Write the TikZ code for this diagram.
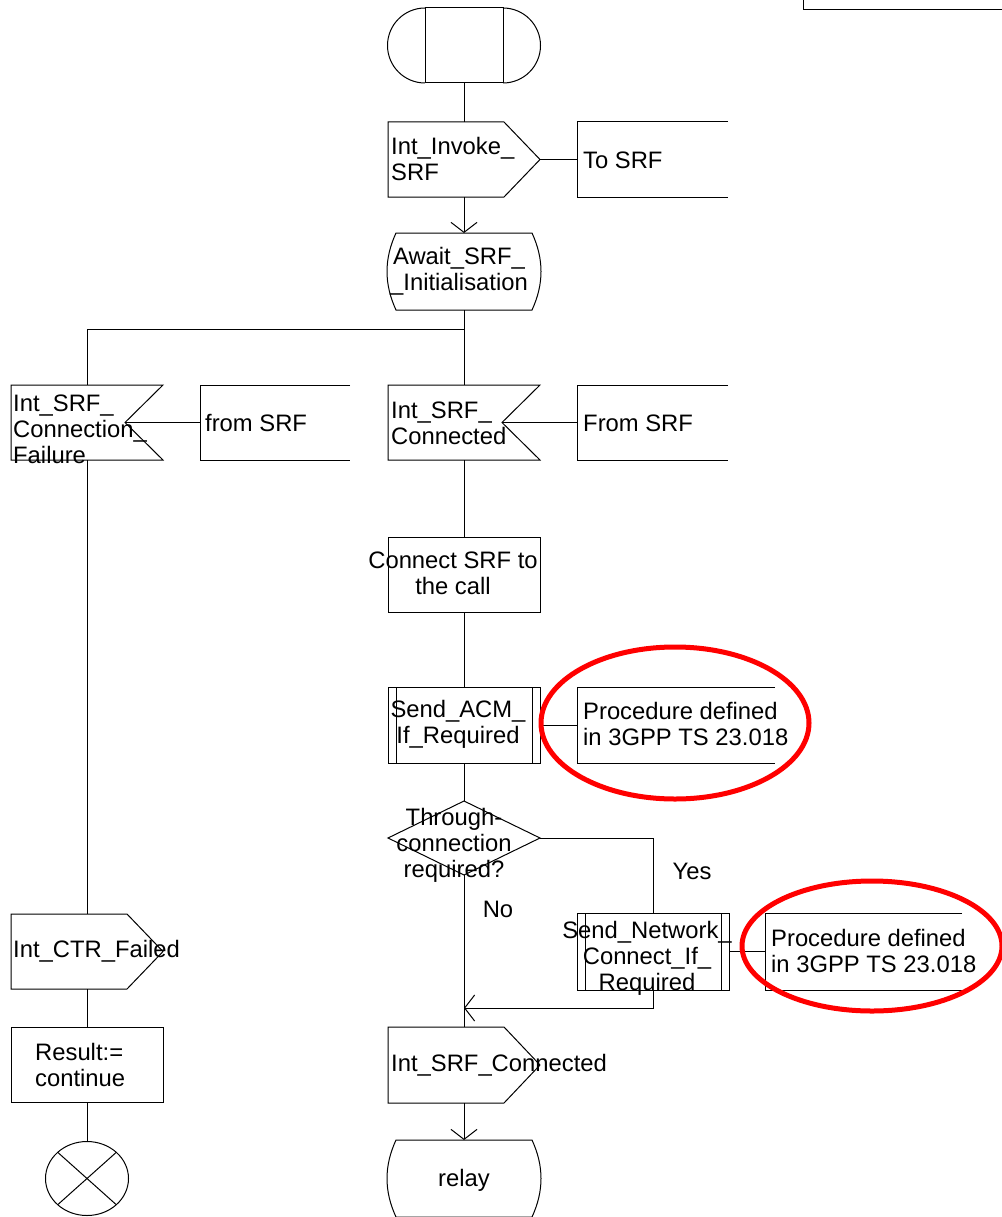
\documentclass[tikz,border=0pt]{standalone}
\usepackage{fontspec}
\setmainfont{Liberation Sans}
\usetikzlibrary{calc,arrows.meta}

% outline macros for the SDL symbols, drawn from the anchors of an empty node
\newcommand\sdlOut[1]{\draw[sdl] (#1.north west) -- ($(#1.north east)+(-36,0)$) -- (#1.east) -- ($(#1.south east)+(-36,0)$) -- (#1.south west) -- cycle;}
\newcommand\sdlIn[1]{\draw[sdl] (#1.north west) -- (#1.north east) -- ($(#1.east)+(-38,0)$) -- (#1.south east) -- (#1.south west) -- cycle;}
\newcommand\sdlState[1]{\draw[sdl] ($(#1.north west)+(9,0)$) -- ($(#1.north east)+(-9,0)$)
   .. controls ($(#1.north east)+(3,26)$) and ($(#1.south east)+(3,-26)$) .. ($(#1.south east)+(-9,0)$)
   -- ($(#1.south west)+(9,0)$)
   .. controls ($(#1.south west)+(-3,-26)$) and ($(#1.north west)+(-3,26)$) .. cycle;}
\newcommand\sdlText[1]{\draw[sdl] (#1.north east) -- (#1.north west) -- (#1.south west) -- (#1.south east);}
\newcommand\sdlCall[1]{\draw[sdl] (#1.north west) rectangle (#1.south east);
   \draw[sdl] ($(#1.north west)+(8,0)$) -- ($(#1.south west)+(8,0)$);
   \draw[sdl] ($(#1.north east)+(-8,0)$) -- ($(#1.south east)+(-8,0)$);}
\newcommand\sdlDecision[1]{\draw[sdl] (#1.north) -- (#1.east) -- (#1.south) -- (#1.west) -- cycle;}

\begin{document}
\begin{tikzpicture}[x=1pt,y=-1pt,
  sdl/.style={draw=black,line width=1pt},
  flow/.style={draw=black,line width=1pt},
  flowarrow/.style={flow,-{Straight Barb[length=10pt,width=26pt]}},
  sym/.style={inner sep=0pt,outer sep=0pt},
  procbox/.style={sym,draw=black,line width=1pt},
  txt/.style={font=\fontsize{23.8pt}{26pt}\selectfont,inner sep=0pt,align=left},
  ctxt/.style={txt,align=center},
  ring/.style={draw=red,line width=5pt}]
\useasboundingbox (0,0) rectangle (1001,1217);

% partial frame in the upper right corner
\draw[sdl] (803,-2) -- (803,10) -- (1003,10);

% ---- symbols ----
\node[sym,minimum width=154pt,minimum height=75pt] (start) at (464,45.5) {};
\draw[sdl] ($(start.north west)+(38,0)$) rectangle ($(start.south east)+(-38,0)$);
\draw[sdl] ($(start.north west)+(38,0)$) arc[start angle=90,end angle=270,radius=37.5pt];
\draw[sdl] ($(start.south east)+(-38,0)$) arc[start angle=-90,end angle=90,radius=37.5pt];

\node[sym,minimum width=152pt,minimum height=75pt] (invoke) at (464,159.5) {};
\sdlOut{invoke}
\node[sym,minimum width=151pt,minimum height=75pt] (tosrf) at (652.5,159.5) {};
\sdlText{tosrf}

\node[sym,minimum width=154pt,minimum height=77pt] (await) at (464,271.5) {};
\sdlState{await}

\node[sym,minimum width=152pt,minimum height=75pt] (cf) at (87,422.5) {};
\sdlIn{cf}
\node[sym,minimum width=150pt,minimum height=75pt] (from1) at (275,422.5) {};
\sdlText{from1}

\node[sym,minimum width=152pt,minimum height=75pt] (cok) at (464,422.5) {};
\sdlIn{cok}
\node[sym,minimum width=151pt,minimum height=75pt] (from2) at (652.5,422.5) {};
\sdlText{from2}

\node[procbox,minimum width=152pt,minimum height=75pt] (connect) at (464,574.5) {};

\node[sym,minimum width=152pt,minimum height=76pt] (acm) at (464,725) {};
\sdlCall{acm}
\node[sym,minimum width=198pt,minimum height=76pt] (proc1) at (676,725) {};
\sdlText{proc1}

\node[sym,minimum width=152pt,minimum height=74pt] (dec) at (464,838) {};
\sdlDecision{dec}

\node[sym,minimum width=152pt,minimum height=77pt] (net) at (653,951.5) {};
\sdlCall{net}
\node[sym,minimum width=197pt,minimum height=77pt] (proc2) at (863.5,951.5) {};
\sdlText{proc2}

\node[sym,minimum width=152pt,minimum height=75pt] (ctrf) at (87,951.5) {};
\sdlOut{ctrf}
\node[procbox,minimum width=152pt,minimum height=75pt] (result) at (87,1064.5) {};
\node[sym,minimum width=83pt,minimum height=74pt] (stop) at (87,1178.5) {};
\draw[sdl] (stop.center) ellipse[x radius=41.5pt,y radius=37pt];
\draw[sdl] ($(stop.center)+(-29.3,-26.2)$) -- ($(stop.center)+(29.3,26.2)$);
\draw[sdl] ($(stop.center)+(-29.3,26.2)$) -- ($(stop.center)+(29.3,-26.2)$);

\node[sym,minimum width=152pt,minimum height=76pt] (out2) at (464,1065) {};
\sdlOut{out2}
\node[sym,minimum width=154pt,minimum height=77pt] (relay) at (464,1178.5) {};
\sdlState{relay}

% ---- texts ----
\node[txt,anchor=west] (t-invoke) at (391,159) {Int\_Invoke\_\\SRF};
\node[txt,anchor=west] (t-tosrf) at (583,160) {To SRF};
\node[ctxt] (t-await) at (459,271) {Await\_SRF\_\\\_Initialisation};
\node[txt,anchor=west] (t-cf) at (13,429) {Int\_SRF\_\\Connection\_\\Failure};
\node[txt,anchor=west] (t-from1) at (205,423) {from SRF};
\node[txt,anchor=west] (t-cok) at (391,423) {Int\_SRF\_\\Connected};
\node[txt,anchor=west] (t-from2) at (583,423) {From SRF};
\node[ctxt] (t-connect) at (453,573) {Connect SRF to\\the call};
\node[ctxt] (t-acm) at (458,724) {Send\_ACM\_\\If\_Required};
\node[txt,anchor=west] (t-proc1) at (583,724) {Procedure defined\\in 3GPP TS 23.018};
\node[ctxt] (t-dec) at (454,845) {Through-\\connection\\required?};
\node[txt] (t-yes) at (692,871) {Yes};
\node[txt] (t-no) at (498,909) {No};
\node[ctxt] (t-net) at (647,958) {Send\_Network\_\\Connect\_If\_\\Required};
\node[txt,anchor=west] (t-proc2) at (771,951) {Procedure defined\\in 3GPP TS 23.018};
\node[txt,anchor=west] (t-ctrf) at (13,951) {Int\_CTR\_Failed};
\node[txt,anchor=west] (t-result) at (35,1065) {Result:=\\continue};
\node[txt,anchor=west] (t-out2) at (391,1065) {Int\_SRF\_Connected};
\node[ctxt] (t-relay) at (464,1180) {relay};

% ---- connectors ----
\coordinate (br) at (464,329);
\coordinate (cfnotch) at ($(cf.east)+(-38,0)$);
\coordinate (coknotch) at ($(cok.east)+(-38,0)$);
\coordinate (merge) at (464,1008);

\draw[flow] (start.south) -- (invoke.north);
\draw[flow] (invoke.east) -- (tosrf.west);
\draw[flowarrow] (invoke.south) -- (await.north);
\draw[flow] (await.south) -- (cok.north);
\draw[flow] (br) -| (cf.north);
\draw[flow] (cfnotch) -- (from1.west);
\draw[flow] (coknotch) -- (from2.west);
\draw[flow] (cf.south) -- (ctrf.north);
\draw[flow] (ctrf.south) -- (result.north);
\draw[flow] (result.south) -- (stop.north);
\draw[flow] (cok.south) -- (connect.north);
\draw[flow] (connect.south) -- (acm.north);
\draw[flow] (acm.east) -- (proc1.west);
\draw[flow] (acm.south) -- (dec.north);
\draw[flow] (dec.east) -| (net.north);
\draw[flow] (net.east) -- (proc2.west);
\draw[flow] (dec.south) -- (out2.north);
\draw[flowarrow] (net.south) |- (merge);
\draw[flowarrow] (out2.south) -- (relay.north);

% ---- red highlight rings ----
\draw[ring] (675,723) ellipse[x radius=134pt,y radius=76pt];
\draw[ring] (872,946) ellipse[x radius=130pt,y radius=65pt];
\end{tikzpicture}
\end{document}
